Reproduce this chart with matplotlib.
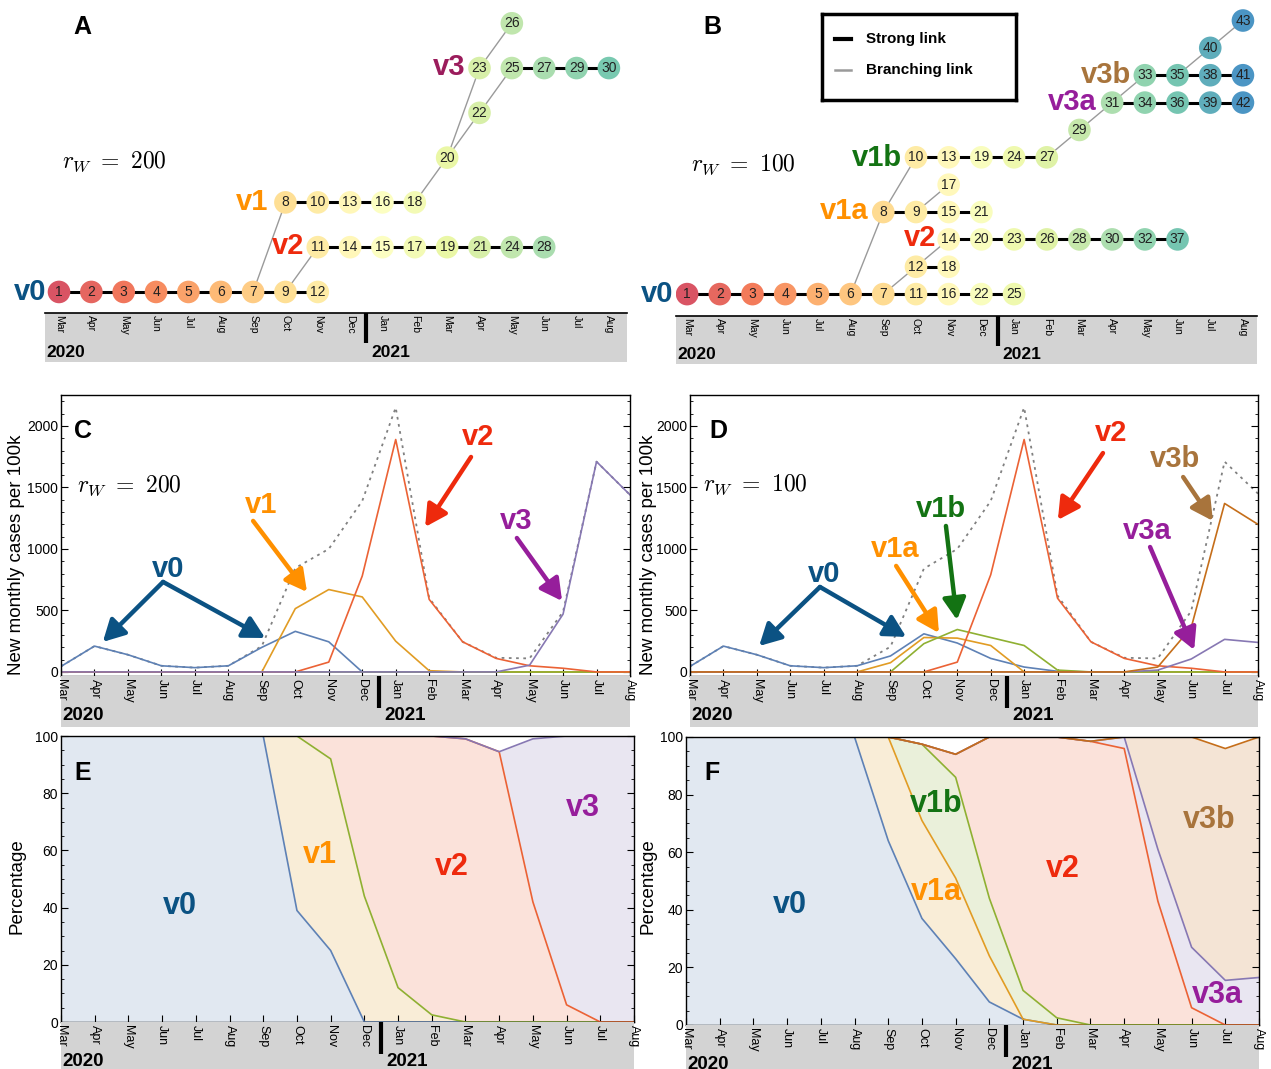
import numpy as np
import matplotlib
matplotlib.use('Agg')
import matplotlib.pyplot as plt
from matplotlib import font_manager

W, H = 1271, 1069

months = ['Mar', 'Apr', 'May', 'Jun', 'Jul', 'Aug', 'Sep', 'Oct', 'Nov', 'Dec',
          'Jan', 'Feb', 'Mar', 'Apr', 'May', 'Jun', 'Jul', 'Aug']
x = np.arange(len(months))

# ---- panel A network (node id, month index, row) ----
a_id = [1, 2, 3, 4, 5, 6, 7, 9, 12,
        11, 14, 15, 17, 19, 21, 24, 28,
        8, 10, 13, 16, 18,
        20, 22,
        23, 25, 27, 29, 30,
        26]
a_month = [0, 1, 2, 3, 4, 5, 6, 7, 8,
           8, 9, 10, 11, 12, 13, 14, 15,
           7, 8, 9, 10, 11,
           12, 13,
           13, 14, 15, 16, 17,
           14]
a_row = [0, 0, 0, 0, 0, 0, 0, 0, 0,
         1, 1, 1, 1, 1, 1, 1, 1,
         2, 2, 2, 2, 2,
         3, 4,
         5, 5, 5, 5, 5,
         6]
a_chains = [[1, 2, 3, 4, 5, 6, 7, 9, 12],
            [11, 14, 15, 17, 19, 21, 24, 28],
            [8, 10, 13, 16, 18],
            [25, 27, 29, 30]]
a_branch = [(7, 8), (9, 11), (18, 20), (20, 23), (20, 22), (22, 25), (23, 26)]

# ---- panel B network ----
b_id = [1, 2, 3, 4, 5, 6, 7, 11, 16, 22, 25,
        12, 18,
        14, 20, 23, 26, 28, 30, 32, 37,
        8, 9, 15, 21,
        17,
        10, 13, 19, 24, 27,
        29,
        31, 34, 36, 39, 42,
        33, 35, 38, 41,
        40, 43]
b_month = [0, 1, 2, 3, 4, 5, 6, 7, 8, 9, 10,
           7, 8,
           8, 9, 10, 11, 12, 13, 14, 15,
           6, 7, 8, 9,
           8,
           7, 8, 9, 10, 11,
           12,
           13, 14, 15, 16, 17,
           14, 15, 16, 17,
           16, 17]
b_row = [0] * 11 + [1] * 2 + [2] * 8 + [3] * 4 + [4] + [5] * 5 + [6] + [7] * 5 + [8] * 4 + [9, 10]
b_chains = [[1, 2, 3, 4, 5, 6, 7, 11, 16, 22, 25],
            [12, 18],
            [14, 20, 23, 26, 28, 30, 32, 37],
            [8, 9, 15, 21],
            [10, 13, 19, 24, 27],
            [31, 34, 36, 39, 42],
            [33, 35, 38, 41]]
b_branch = [(6, 8), (8, 10), (7, 12), (12, 14), (9, 17), (27, 29), (29, 31),
            (31, 33), (35, 40), (40, 43)]

# ---- panel C: new monthly cases per 100k, r_W = 200 ----
c_v0 = [45, 210, 140, 50, 35, 50, 200, 330, 245, 0, 0, 0, 0, 0, 0, 0, 0, 0]
c_v1 = [0, 0, 0, 0, 0, 0, 0, 515, 670, 610, 250, 10, 0, 0, 0, 0, 0, 0]
c_other = [0] * 18
c_v2 = [0, 0, 0, 0, 0, 0, 0, 0, 80, 780, 1890, 590, 245, 110, 50, 30, 0, 0]
c_v3 = [0, 0, 0, 0, 0, 0, 0, 0, 0, 0, 0, 0, 0, 0, 55, 470, 1710, 1440]
c_total = [45, 210, 140, 50, 35, 50, 210, 845, 1000, 1390, 2150, 600, 245, 115, 110, 490, 1710, 1440]

# ---- panel D: r_W = 100 ----
d_v0 = [45, 210, 140, 50, 35, 50, 130, 310, 235, 110, 40, 5, 0, 0, 0, 0, 0, 0]
d_v1a = [0, 0, 0, 0, 0, 0, 75, 280, 275, 215, 0, 0, 0, 0, 0, 0, 0, 0]
d_v1b = [0, 0, 0, 0, 0, 0, 0, 230, 345, 280, 215, 15, 0, 0, 0, 0, 0, 0]
d_v2 = [0, 0, 0, 0, 0, 0, 0, 0, 80, 790, 1890, 600, 245, 110, 50, 30, 0, 0]
d_v3a = [0, 0, 0, 0, 0, 0, 0, 0, 0, 0, 0, 0, 0, 0, 15, 105, 265, 240]
d_v3b = [0, 0, 0, 0, 0, 0, 0, 0, 0, 0, 0, 0, 0, 0, 40, 360, 1370, 1200]
d_total = [45, 210, 140, 50, 35, 50, 205, 840, 1000, 1390, 2150, 620, 245, 115, 110, 495, 1710, 1450]

# ---- panel E: cumulative percentage boundaries ----
e_v0 = [100, 100, 100, 100, 100, 100, 100, 39, 25, 0, 0, 0, 0, 0, 0, 0, 0, 0]
e_v1 = [100, 100, 100, 100, 100, 100, 100, 100, 92, 44, 12, 2.5, 0, 0, 0, 0, 0, 0]
e_v2 = [100, 100, 100, 100, 100, 100, 100, 100, 100, 100, 100, 100, 99, 94.5, 42, 6, 0, 0]
e_v3 = [100, 100, 100, 100, 100, 100, 100, 100, 100, 100, 100, 100, 99, 94.5, 99, 100, 100, 100]

# ---- panel F ----
f_v0 = [100, 100, 100, 100, 100, 100, 64, 37, 23, 8, 2, 0, 0, 0, 0, 0, 0, 0]
f_v1a = [100, 100, 100, 100, 100, 100, 100, 71, 51, 24, 2, 0, 0, 0, 0, 0, 0, 0]
f_v1b = [100, 100, 100, 100, 100, 100, 100, 97.5, 86, 44, 12, 2.5, 0, 0, 0, 0, 0, 0]
f_v2 = [100, 100, 100, 100, 100, 100, 100, 97.5, 94, 100, 100, 100, 98.5, 96, 43, 6, 0, 0]
f_v3a = [100, 100, 100, 100, 100, 100, 100, 97.5, 94, 100, 100, 100, 98.5, 100, 61, 27, 15.5, 16.5]
f_v3b = [100, 100, 100, 100, 100, 100, 100, 97.5, 94, 100, 100, 100, 98.5, 100, 100, 100, 96, 100]

# colours
BLUE, ORANGE, GREEN, RED, PURPLE, BROWN = '#5E81B5', '#E19C24', '#8FB032', '#EB6235', '#8778B3', '#C56E1A'
T_V0, T_V1, T_V2 = '#0b5283', '#ff9000', '#ee2a0d'
T_V3A, T_V1B, T_V3B, T_V3 = '#961e9b', '#137313', '#a8743c', '#9b1c5c'


def pick(names):
    for n in names:
        try:
            font_manager.findfont(n, fallback_to_default=False)
            return n
        except Exception:
            pass
    return 'DejaVu Sans'


SANS = pick(['Liberation Sans', 'Noto Sans'])
NARROW = pick(['Liberation Sans Narrow', 'Liberation Sans'])
plt.rcParams['font.family'] = [SANS, 'DejaVu Sans']
plt.rcParams['mathtext.fontset'] = 'cm'

fig = plt.figure(figsize=(W / 100, H / 100), dpi=100)


def px_axes(x0, y0, x1, y1):
    return fig.add_axes([x0 / W, 1 - y1 / H, (x1 - x0) / W, (y1 - y0) / H])


def ftext(px, py, s, **kw):
    fig.text(px / W, 1 - py / H, s, **kw)


def vlabel(px, py, s, color, size=21, ha='center'):
    ftext(px, py, s, color=color, fontsize=size, fontweight='bold', family=NARROW,
          ha=ha, va='center')


def strip(x0, y0, x1, y1, xlim, fs_m, fs_y, top_line=False):
    ax = px_axes(x0, y0, x1, y1)
    ax.set_facecolor('#d3d3d3')
    ax.set_xlim(xlim)
    ax.set_ylim(0, 1)
    ax.set_xticks([])
    ax.set_yticks([])
    for s in ax.spines.values():
        s.set_visible(False)
    if top_line:
        ax.spines['top'].set_visible(True)
        ax.spines['top'].set_linewidth(1.2)
    for i, m in enumerate(months):
        ax.text(i, 0.95, m, rotation=-90, ha='center', va='top', fontsize=fs_m)
    ax.plot([9.5, 9.5], [1.0, 0.38], color='k', lw=3, solid_capstyle='butt')
    ax.text(xlim[0] + 0.05, 0.05, '2020', fontsize=fs_y, fontweight='bold',
            ha='left', va='bottom')
    ax.text(9.65, 0.05, '2021', fontsize=fs_y, fontweight='bold', ha='left', va='bottom')
    return ax


def network(ax, ids, mon, row, chains, branch, lo, hi):
    pos = {i: (m, r) for i, m, r in zip(ids, mon, row)}
    for a, b in branch:
        ax.plot([pos[a][0], pos[b][0]], [pos[a][1], pos[b][1]], color='#9a9a9a', lw=1, zorder=1)
    for ch in chains:
        for a, b in zip(ch[:-1], ch[1:]):
            ax.plot([pos[a][0], pos[b][0]], [pos[a][1], pos[b][1]], color='k', lw=2.2, zorder=1)
    cols = plt.cm.Spectral(lo + np.array(mon) / 17 * (hi - lo))
    cols[:, :3] = 0.88 * cols[:, :3] + 0.12
    ax.scatter(mon, row, s=265, c=cols, edgecolors='none', zorder=2)
    for i, m, r in zip(ids, mon, row):
        ax.text(m, r, str(i), ha='center', va='center', fontsize=10, color='#222222',
                family=NARROW, zorder=3)
    ax.axis('off')


# ---------------- panel A ----------------
axA = px_axes(45, 0, 627, 313)
axA.set_xlim(-0.433, 17.56)
axA.set_ylim(-0.47, 6.52)
network(axA, a_id, a_month, a_row, a_chains, a_branch, 0.1, 0.8)
strip(45, 313, 627, 362, (-0.433, 17.56), 7.5, 12.5, top_line=True)
ftext(82, 27, 'A', fontsize=18, fontweight='bold', ha='center', va='center')
ftext(62, 162, r'$r_W\ =\ 200$', fontsize=17, ha='left', va='center')
vlabel(46, 292, 'v0', T_V0, ha='right')
vlabel(268, 202, 'v1', T_V1, ha='right')
vlabel(304, 246, 'v2', T_V2, ha='right')
vlabel(465, 67, 'v3', T_V3, ha='right')

# ---------------- panel B ----------------
axB = px_axes(676, 0, 1257, 316)
axB.set_xlim(-0.34, 17.43)
axB.set_ylim(-0.80, 10.75)
network(axB, b_id, b_month, b_row, b_chains, b_branch, 0.1, 0.9)
strip(676, 316, 1257, 364, (-0.34, 17.43), 7.5, 12.5, top_line=True)
ftext(712, 27, 'B', fontsize=18, fontweight='bold', ha='center', va='center')
ftext(691, 165, r'$r_W\ =\ 100$', fontsize=17, ha='left', va='center')
vlabel(673, 294, 'v0', T_V0, ha='right')
vlabel(902, 158, 'v1b', T_V1B, ha='right')
vlabel(869, 211, 'v1a', T_V1, ha='right')
vlabel(936, 238, 'v2', T_V2, ha='right')
vlabel(1097, 102, 'v3a', T_V3A, ha='right')
vlabel(1131, 75, 'v3b', T_V3B, ha='right')

leg = px_axes(822, 14, 1016, 100)
leg.set_xlim(0, 1)
leg.set_ylim(0, 1)
leg.set_xticks([])
leg.set_yticks([])
for s in leg.spines.values():
    s.set_linewidth(2.5)
leg.plot([0.067, 0.15], [0.71, 0.71], color='k', lw=3)
leg.plot([0.067, 0.15], [0.35, 0.35], color='#9a9a9a', lw=1.8)
leg.text(0.227, 0.71, 'Strong link', fontsize=11, fontweight='semibold', va='center')
leg.text(0.227, 0.35, 'Branching link', fontsize=11, fontweight='semibold', va='center')


# ---------------- panels C, D ----------------
def style_axes(ax, ymaj, ymin, ylim):
    ax.set_xlim(0, 17)
    ax.set_ylim(*ylim)
    ax.set_xticks(x)
    ax.set_xticklabels([])
    ax.set_yticks(ymaj)
    ax.set_yticks(ymin, minor=True)
    ax.tick_params(axis='both', which='both', direction='in', right=True, labelsize=10, pad=2)
    ax.tick_params(axis='both', which='major', length=5)
    ax.tick_params(axis='both', which='minor', length=2.5)
    for s in ax.spines.values():
        s.set_linewidth(1)


def arrow(ax, start, end, color):
    ax.annotate('', xy=end, xytext=start,
                arrowprops=dict(arrowstyle='-|>,head_length=0.65,head_width=0.35',
                                lw=3.2, color=color, shrinkA=0, shrinkB=0,
                                mutation_scale=20))


axC = px_axes(61, 395, 630, 676)
axC.plot(x, c_total, color='#808080', lw=1.3, dashes=(1.5, 2.5), zorder=1)
for ser, col in [(c_v0, BLUE), (c_v1, ORANGE), (c_other, GREEN), (c_v2, RED), (c_v3, PURPLE)]:
    axC.plot(x, ser, color=col, lw=1.2, zorder=2)
style_axes(axC, [0, 500, 1000, 1500, 2000], np.arange(0, 2300, 100), (-33, 2252))
arrow(axC, (3.05, 732), (1.25, 244), T_V0)
arrow(axC, (3.05, 732), (6.1, 276), T_V0)
arrow(axC, (5.74, 1228), (7.35, 650), T_V1)
arrow(axC, (12.25, 1748), (10.88, 1179), T_V2)
arrow(axC, (13.62, 1089), (14.97, 577), T_V3A)
strip(61, 676, 630, 727, (0, 17), 9, 13.5)
ftext(83, 431, 'C', fontsize=18, fontweight='bold', ha='center', va='center')
ftext(77, 486, r'$r_W\ =\ 200$', fontsize=17, ha='left', va='center')
vlabel(168, 569, 'v0', T_V0)
vlabel(261, 505, 'v1', T_V1)
vlabel(478, 437, 'v2', T_V2)
vlabel(516, 521, 'v3', T_V3A)
ftext(17, 555, 'New monthly cases per 100k', rotation=90, fontsize=13.5, ha='center', va='center')

axD = px_axes(690, 395, 1258, 676)
axD.plot(x, d_total, color='#808080', lw=1.3, dashes=(1.5, 2.5), zorder=1)
for ser, col in [(d_v0, BLUE), (d_v1a, ORANGE), (d_v1b, GREEN), (d_v2, RED), (d_v3a, PURPLE),
                 (d_v3b, BROWN)]:
    axD.plot(x, ser, color=col, lw=1.2, zorder=2)
style_axes(axD, [0, 500, 1000, 1500, 2000], np.arange(0, 2300, 100), (-33, 2252))
arrow(axD, (3.89, 691), (2.07, 211), T_V0)
arrow(axD, (3.89, 691), (6.47, 285), T_V0)
arrow(axD, (6.17, 862), (7.45, 317), T_V1)
arrow(axD, (7.66, 1187), (7.99, 423), T_V1B)
arrow(axD, (12.36, 1780), (11.01, 1236), T_V2)
arrow(axD, (14.76, 1585), (15.65, 1228), T_V3B)
arrow(axD, (13.77, 1016), (15.09, 179), T_V3A)
strip(690, 676, 1258, 727, (0, 17), 9, 13.5)
ftext(718, 431, 'D', fontsize=18, fontweight='bold', ha='center', va='center')
ftext(703, 485, r'$r_W\ =\ 100$', fontsize=17, ha='left', va='center')
vlabel(824, 574, 'v0', T_V0)
vlabel(895, 549, 'v1a', T_V1)
vlabel(941, 509, 'v1b', T_V1B)
vlabel(1111, 433, 'v2', T_V2)
vlabel(1175, 459, 'v3b', T_V3B)
vlabel(1147, 531, 'v3a', T_V3A)
ftext(648, 555, 'New monthly cases per 100k', rotation=90, fontsize=13.5, ha='center', va='center')


# ---------------- panels E, F ----------------
def stacked(ax, layers):
    prev = np.zeros(len(x))
    for ser, fill_col, line_col in layers:
        ax.fill_between(x, prev, ser, color=fill_col, alpha=0.18, lw=0, zorder=1)
        prev = np.array(ser, dtype=float)
    for ser, fill_col, line_col in layers:
        ax.plot(x, ser, color=line_col, lw=1.2, zorder=2)


axE = px_axes(61, 736, 634, 1022)
stacked(axE, [(e_v0, BLUE, BLUE), (e_v1, ORANGE, GREEN), (e_v2, RED, RED), (e_v3, PURPLE, PURPLE)])
style_axes(axE, [0, 20, 40, 60, 80, 100], np.arange(0, 101, 5), (0, 100))
strip(61, 1022, 634, 1073, (0, 17), 9, 13.5)
ftext(83, 773, 'E', fontsize=18, fontweight='bold', ha='center', va='center')
vlabel(180, 906, 'v0', T_V0, size=22)
vlabel(320, 855, 'v1', T_V1, size=22)
vlabel(452, 867, 'v2', T_V2, size=22)
vlabel(583, 808, 'v3', T_V3A, size=22)
ftext(17, 886, 'Percentage', rotation=90, fontsize=13.5, ha='center', va='center')

axF = px_axes(686, 737, 1259, 1025)
stacked(axF, [(f_v0, BLUE, BLUE), (f_v1a, ORANGE, ORANGE), (f_v1b, GREEN, GREEN),
              (f_v2, RED, RED), (f_v3a, PURPLE, PURPLE), (f_v3b, BROWN, BROWN)])
style_axes(axF, [0, 20, 40, 60, 80, 100], np.arange(0, 101, 5), (0, 100))
strip(686, 1025, 1259, 1076, (0, 17), 9, 13.5)
ftext(712, 773, 'F', fontsize=18, fontweight='bold', ha='center', va='center')
vlabel(790, 905, 'v0', T_V0, size=22)
vlabel(936, 804, 'v1b', T_V1B, size=22)
vlabel(936, 892, 'v1a', T_V1, size=22)
vlabel(1063, 869, 'v2', T_V2, size=22)
vlabel(1209, 820, 'v3b', T_V3B, size=22)
vlabel(1217, 995, 'v3a', T_V3A, size=22)
ftext(648, 886, 'Percentage', rotation=90, fontsize=13.5, ha='center', va='center')

fig.savefig('out.png', dpi=100)
